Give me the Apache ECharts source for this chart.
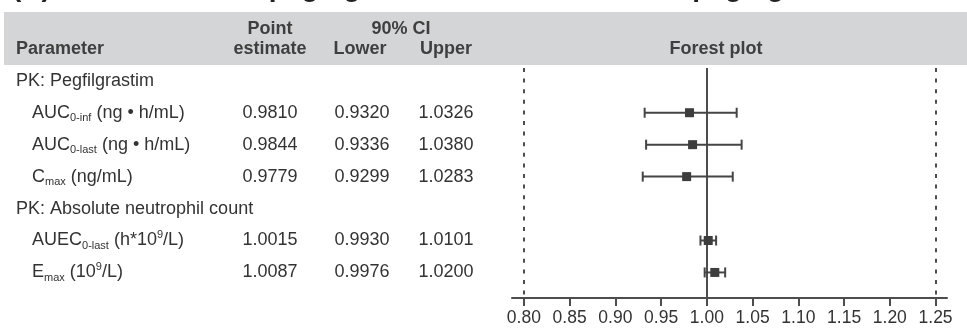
<!DOCTYPE html>
<html>
<head>
<meta charset="utf-8">
<script src="https://cdn.jsdelivr.net/npm/echarts@6/dist/echarts.min.js"></script>
<style>
  html, body { margin: 0; padding: 0; background: #ffffff; }
  #chart { width: 967px; height: 328px; }
</style>
</head>
<body>
<div id="chart"></div>
<script>
// Row layout of the table (top to bottom): group headings and parameters
const groupNames = ['PK: Pegfilgrastim', 'PK: Absolute neutrophil count'];
const groupRows = [0, 4];

const paramNames = ['AUC', 'AUC', 'C', 'AUEC', 'E'];
const paramSubs = ['0-inf', '0-last', 'max', '0-last', 'max'];
const paramUnits = [' (ng • h/mL)', ' (ng • h/mL)', ' (ng/mL)', ' (h*10{sup|9}/L)', ' (10{sup|9}/L)'];
const paramRows = [1, 2, 3, 5, 6];

// Geometric mean ratios with 90% confidence limits
const pointEstimate = [0.9810, 0.9844, 0.9779, 1.0015, 1.0087];
const ciLower = [0.9320, 0.9336, 0.9299, 0.9930, 0.9976];
const ciUpper = [1.0326, 1.0380, 1.0283, 1.0101, 1.0200];

// Axis ticks and reference lines of the forest plot
const tickValues = [0.80, 0.85, 0.90, 0.95, 1.00, 1.05, 1.10, 1.15, 1.20, 1.25];
const unityLine = 1.00;
const equivalenceBounds = [0.80, 1.25];

const FONT = '"Liberation Sans", Arial, Helvetica, sans-serif';
const INK = '#333333';
const HEAD_INK = '#3f3f3f';
const MARK = '#454545';

const chart = echarts.init(document.getElementById('chart'), null, { renderer: 'canvas' });

const forestData = paramRows.map((r, i) => [r, pointEstimate[i], ciLower[i], ciUpper[i]]);

chart.setOption({
  animation: false,
  backgroundColor: '#ffffff',
  grid: { left: 512, right: 20, top: 68, bottom: 30, outerBoundsMode: 'none' },
  xAxis: {
    type: 'value',
    min: 0.787,
    max: 1.2625,
    splitLine: { show: false },
    axisLine: { show: true, onZero: false, lineStyle: { color: '#4d4d4d', width: 2 } },
    axisTick: { show: true, customValues: tickValues, length: 8, lineStyle: { color: '#4d4d4d', width: 2 } },
    axisLabel: {
      show: true,
      customValues: tickValues,
      formatter: v => v.toFixed(2),
      fontSize: 17.5,
      fontFamily: FONT,
      color: INK,
      margin: 11
    }
  },
  yAxis: {
    type: 'value',
    inverse: true,
    min: -0.4,
    max: 6.8,
    show: false
  },
  series: [
    {
      // reference lines: no-effect line and equivalence limits
      type: 'line',
      data: [],
      z: 1,
      silent: true,
      markLine: {
        silent: true,
        symbol: 'none',
        label: { show: false },
        animation: false,
        data: [
          { xAxis: unityLine, lineStyle: { color: '#4d4d4d', width: 2, type: 'solid' } },
          { xAxis: equivalenceBounds[0], lineStyle: { color: '#4d4d4d', width: 2, type: [4, 6.6] } },
          { xAxis: equivalenceBounds[1], lineStyle: { color: '#4d4d4d', width: 2, type: [4, 6.6] } }
        ]
      }
    },
    {
      type: 'custom',
      z: 5,
      data: forestData,
      encode: { x: [1, 2, 3], y: 0 },
      renderItem: function (params, api) {
        const row = api.value(0);
        const pE = api.coord([api.value(1), row]);
        const pL = api.coord([api.value(2), row]);
        const pU = api.coord([api.value(3), row]);
        const cap = 5;
        const half = 4.5;
        const st = { stroke: MARK, lineWidth: 2 };
        return {
          type: 'group',
          children: [
            { type: 'line', shape: { x1: pL[0], y1: pL[1], x2: pU[0], y2: pU[1] }, style: st },
            { type: 'line', shape: { x1: pL[0], y1: pL[1] - cap, x2: pL[0], y2: pL[1] + cap }, style: st },
            { type: 'line', shape: { x1: pU[0], y1: pU[1] - cap, x2: pU[0], y2: pU[1] + cap }, style: st },
            { type: 'rect', shape: { x: pE[0] - half, y: pE[1] - half, width: 2 * half, height: 2 * half }, style: { fill: '#3d3d3d' } }
          ]
        };
      }
    }
  ]
});

// Table texts placed on the same row scale as the forest plot
const rowY = r => chart.convertToPixel({ yAxisIndex: 0 }, r);
const colX = { est: 270, lo: 362, hi: 446 };

const graphics = [];

// panel title, running off the top edge
const titleFont = 'bold 28px ' + FONT;
graphics.push({
  type: 'text', x: 12, y: -12, z: 10,
  style: { text: '(A)', font: titleFont, fill: '#222222', verticalAlign: 'middle' }
});
graphics.push({
  type: 'text', x: 110, y: -12, z: 10,
  style: {
    text: 'MYL-1401H pegfilgrastim vs. EU-Neulasta® pegfilgrastim',
    font: titleFont, fill: '#222222', verticalAlign: 'middle'
  }
});

// header band
graphics.push({ type: 'rect', z: 0, shape: { x: 4, y: 12, width: 963, height: 53 }, style: { fill: '#d4d5d7' } });

const headFont = 'bold 18px ' + FONT;
const head = (text, x, y, align) => graphics.push({
  type: 'text', x: x, y: y, z: 10,
  style: { text: text, font: headFont, fill: HEAD_INK, align: align, verticalAlign: 'middle' }
});
head('Parameter', 16, 49, 'left');
head('Point', 270, 29, 'center');
head('estimate', 270, 49, 'center');
head('90% CI', 401, 29, 'center');
head('Lower', 360, 49, 'center');
head('Upper', 446, 49, 'center');
head('Forest plot', 716, 49, 'center');

const bodyFont = '18px ' + FONT;
groupNames.forEach((g, i) => {
  graphics.push({
    type: 'text', x: 16, y: rowY(groupRows[i]), z: 10,
    style: { text: g, font: bodyFont, fill: INK, verticalAlign: 'middle' }
  });
});

const rich = {
  m: { fontSize: 18, fontFamily: FONT, fill: INK, lineHeight: 22 },
  sub: { fontSize: 11, fontFamily: FONT, fill: INK, lineHeight: 10, verticalAlign: 'bottom' },
  sup: { fontSize: 11, fontFamily: FONT, fill: INK, lineHeight: 16, verticalAlign: 'top' }
};

paramNames.forEach((name, i) => {
  const y = rowY(paramRows[i]);
  const units = paramUnits[i].split(/(\{sup\|[^}]*\})/).filter(s => s.length)
    .map(s => s.startsWith('{sup|') ? s : '{m|' + s + '}').join('');
  graphics.push({
    type: 'text', x: 32, y: y, z: 10,
    style: {
      text: '{m|' + name + '}{sub|' + paramSubs[i] + '}' + units,
      rich: rich, font: bodyFont, fill: INK, verticalAlign: 'middle'
    }
  });
  [[pointEstimate[i], colX.est], [ciLower[i], colX.lo], [ciUpper[i], colX.hi]].forEach(([v, x]) => {
    graphics.push({
      type: 'text', x: x, y: y, z: 10,
      style: { text: v.toFixed(4), font: bodyFont, fill: INK, align: 'center', verticalAlign: 'middle' }
    });
  });
});

chart.setOption({ graphic: graphics });
</script>
</body>
</html>
